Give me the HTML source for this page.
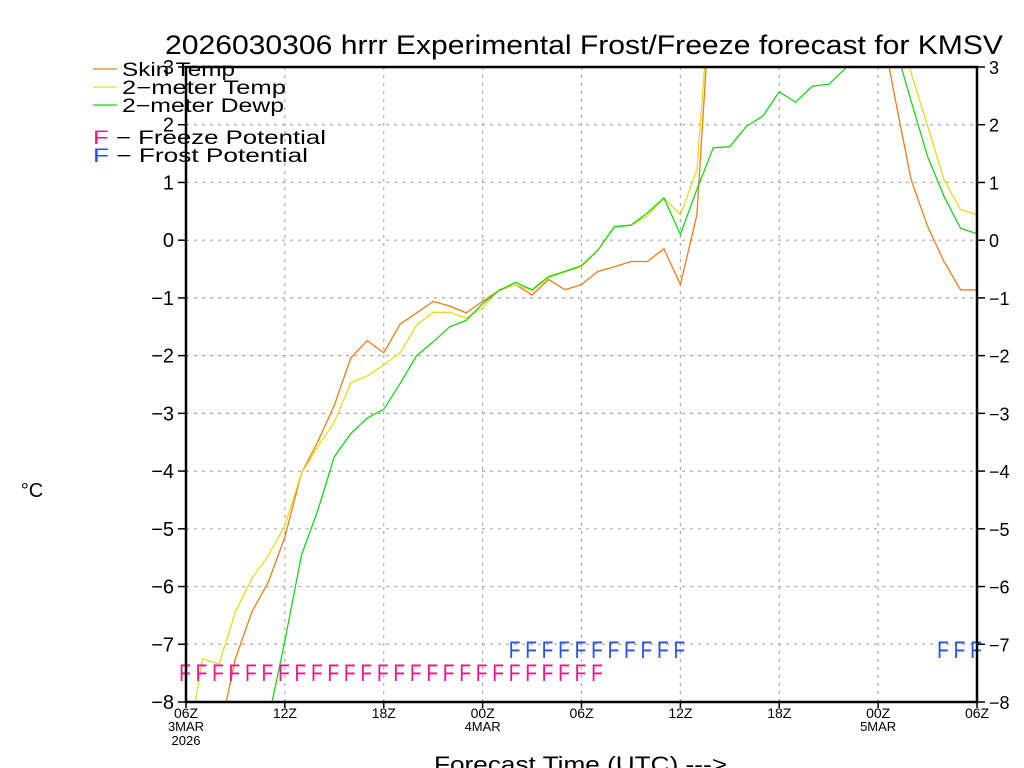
<!DOCTYPE html>
<html><head><meta charset="utf-8"><style>
html,body{margin:0;padding:0;background:#fff;width:1024px;height:768px;overflow:hidden;}
svg{display:block;font-family:"Liberation Sans",sans-serif;}
</style></head><body>
<svg id="chart" width="1024" height="768" viewBox="0 0 1024 768" xmlns="http://www.w3.org/2000/svg">
<defs><clipPath id="plotclip"><rect x="186" y="67" width="791" height="635"/></clipPath></defs>
<text x="165" y="54" textLength="838" lengthAdjust="spacingAndGlyphs" font-size="27" fill="#000">2026030306 hrrr Experimental Frost/Freeze forecast for KMSV</text>
<g id="grid"></g>
<g id="series" clip-path="url(#plotclip)"></g>
<g id="flags"></g>
<rect x="186" y="67" width="791" height="635" fill="none" stroke="#000" stroke-width="2.5"/>
<g id="axes"></g>
<text x="32" y="497" text-anchor="middle" font-size="20">°C</text>
<text x="434" y="772" textLength="293" lengthAdjust="spacingAndGlyphs" font-size="22">Forecast Time (UTC) ---&gt;</text>
<g>
<line x1="93" y1="69" x2="117" y2="69" stroke="#f07c1c" stroke-width="1.3"/>
<text x="122" y="76" font-size="19" textLength="113" lengthAdjust="spacingAndGlyphs">Skin Temp</text>
<line x1="93" y1="87" x2="117" y2="87" stroke="#e6dc1e" stroke-width="1.3"/>
<text x="122" y="94" font-size="19" textLength="164" lengthAdjust="spacingAndGlyphs">2−meter Temp</text>
<line x1="93" y1="105" x2="117" y2="105" stroke="#1ed21e" stroke-width="1.3"/>
<text x="122" y="112" font-size="19" textLength="162" lengthAdjust="spacingAndGlyphs">2−meter Dewp</text>
<text x="93" y="144" font-size="19" textLength="233" lengthAdjust="spacingAndGlyphs"><tspan fill="#f0148c">F</tspan> − Freeze Potential</text>
<text x="93" y="162" font-size="19" textLength="215" lengthAdjust="spacingAndGlyphs"><tspan fill="#2850f0">F</tspan> − Frost Potential</text>
</g>
</svg>
<script>
const hours = [];
for (let i = 0; i <= 48; i++) hours.push(i);
const skinTemp = [-9.5,-9.2,-8.6,-7.25,-6.44,-5.92,-5.14,-4.04,-3.49,-2.86,-2.04,-1.74,-1.95,-1.45,-1.26,-1.06,-1.14,-1.26,-1.06,-0.87,-0.77,-0.95,-0.68,-0.86,-0.77,-0.54,-0.46,-0.37,-0.37,-0.15,-0.77,0.44,5,5,5,5,5,5,5,5,5,5,4,2.5,1.05,0.24,-0.37,-0.86,-0.86];
const temp2m = [-9,-7.25,-7.34,-6.44,-5.86,-5.46,-4.94,-4.04,-3.58,-3.15,-2.47,-2.35,-2.16,-1.95,-1.47,-1.25,-1.25,-1.35,-1.17,-0.86,-0.77,-0.87,-0.65,-0.55,-0.46,-0.17,0.24,0.26,0.42,0.73,0.44,1.22,5,5,5,5,5,5,5,5,5,5,5,4,2.9,1.98,1.05,0.53,0.44];
const dewp2m = [-11,-10.8,-10.5,-10.2,-9.7,-8.3,-6.94,-5.46,-4.68,-3.75,-3.35,-3.08,-2.93,-2.48,-2.0,-1.76,-1.5,-1.39,-1.1,-0.87,-0.73,-0.86,-0.63,-0.54,-0.44,-0.17,0.23,0.26,0.47,0.73,0.1,0.88,1.6,1.62,1.97,2.15,2.57,2.39,2.67,2.7,2.97,3.5,3.5,3.4,2.41,1.45,0.76,0.21,0.11];
const freezeHours = [0,1,2,3,4,5,6,7,8,9,10,11,12,13,14,15,16,17,18,19,20,21,22,23,24,25];
const frostHours = [20,21,22,23,24,25,26,27,28,29,30,46,47,48];
const yTicks = [-8,-7,-6,-5,-4,-3,-2,-1,0,1,2,3];
const xTickHours = [0,6,12,18,24,30,36,42,48];
const xTickLabels = ["06Z","12Z","18Z","00Z","06Z","12Z","18Z","00Z","06Z"];
const xDateLabels = [["3MAR","2026"],[],[],["4MAR"],[],[],[],["5MAR"],[]];

const NS = "http://www.w3.org/2000/svg";
const X0 = 186, X1 = 977, Y0 = 702, Y1 = 67;
function xs(h){ return X0 + (X1 - X0) * h / 48; }
function ys(v){ return Y0 - (Y0 - Y1) * (v + 8) / 11; }
function mk(tag, attrs, parent){ const e = document.createElementNS(NS, tag); for (const k in attrs) e.setAttribute(k, attrs[k]); parent.appendChild(e); return e; }

const grid = document.getElementById('grid');
const axes = document.getElementById('axes');
yTicks.forEach(v => {
  const y = ys(v);
  if (v > -8 && v < 3) {
    const g = mk('line', {x1:X0, x2:X1, y1:y, y2:y, stroke:'#aaa', 'stroke-width':1.2, 'stroke-dasharray':'3,5'}, grid);
    
    
  }
  const tl = mk('line', {x1:X0-8, x2:X0, y1:y, y2:y, stroke:'#000', 'stroke-width':1.5}, axes);
  
  
  const tr = mk('line', {x1:X1, x2:X1+8, y1:y, y2:y, stroke:'#000', 'stroke-width':1.5}, axes);
  
  
  const lab = v < 0 ? '−' + Math.abs(v) : String(v);
  const l = mk('text', {x:X0-12, y:y+7, 'text-anchor':'end', 'font-size':20}, axes);
  l.textContent = lab;
  
  
  const r = mk('text', {x:X1+12, y:y+7, 'text-anchor':'start', 'font-size':18}, axes);
  r.textContent = lab;
  
  
});
xTickHours.forEach((h, i) => {
  const x = xs(h);
  if (h > 0 && h < 48) {
    const g = mk('line', {x1:x, x2:x, y1:Y1, y2:Y0, stroke:'#aaa', 'stroke-width':1.2, 'stroke-dasharray':'3,5'}, grid);
    
    
  }
  const t = mk('line', {x1:x, x2:x, y1:Y0, y2:Y0+6, stroke:'#000', 'stroke-width':1.5}, axes);
  
  
  const l = mk('text', {x:x, y:718, 'text-anchor':'middle', 'font-size':14}, axes);
  l.textContent = xTickLabels[i];
  
  
  xDateLabels[i].forEach((d, j) => {
    const dl = mk('text', {x:x, y:731 + j*14, 'text-anchor':'middle', 'font-size':13}, axes);
    dl.textContent = d;
    
    
  });
});

const series = document.getElementById('series');
[[skinTemp,'#f07c1c','skin-temp-line'],[temp2m,'#e6dc1e','2m-temp-line'],[dewp2m,'#1ed21e','2m-dewp-line']].forEach(s => {
  const pts = s[0].map((v, i) => xs(hours[i]).toFixed(1) + ',' + ys(v).toFixed(1)).join(' ');
  const p = mk('polyline', {points:pts, fill:'none', stroke:s[1], 'stroke-width':1.3}, series);
  
  
});

const flags = document.getElementById('flags');
freezeHours.forEach(h => {
  const t = mk('text', {x:xs(h)-1, y:681, 'text-anchor':'middle', 'font-size':24, fill:'#f0148c', transform:'translate(' + (xs(h)-1) + ',0) scale(0.8,1) translate(' + (-(xs(h)-1)) + ',0)'}, flags);
  t.textContent = 'F';
  
  
});
frostHours.forEach(h => {
  const t = mk('text', {x:xs(h)-1, y:658, 'text-anchor':'middle', 'font-size':24, fill:'#2850f0', transform:'translate(' + (xs(h)-1) + ',0) scale(0.8,1) translate(' + (-(xs(h)-1)) + ',0)'}, flags);
  t.textContent = 'F';
  
  
});
</script>
</body></html>
